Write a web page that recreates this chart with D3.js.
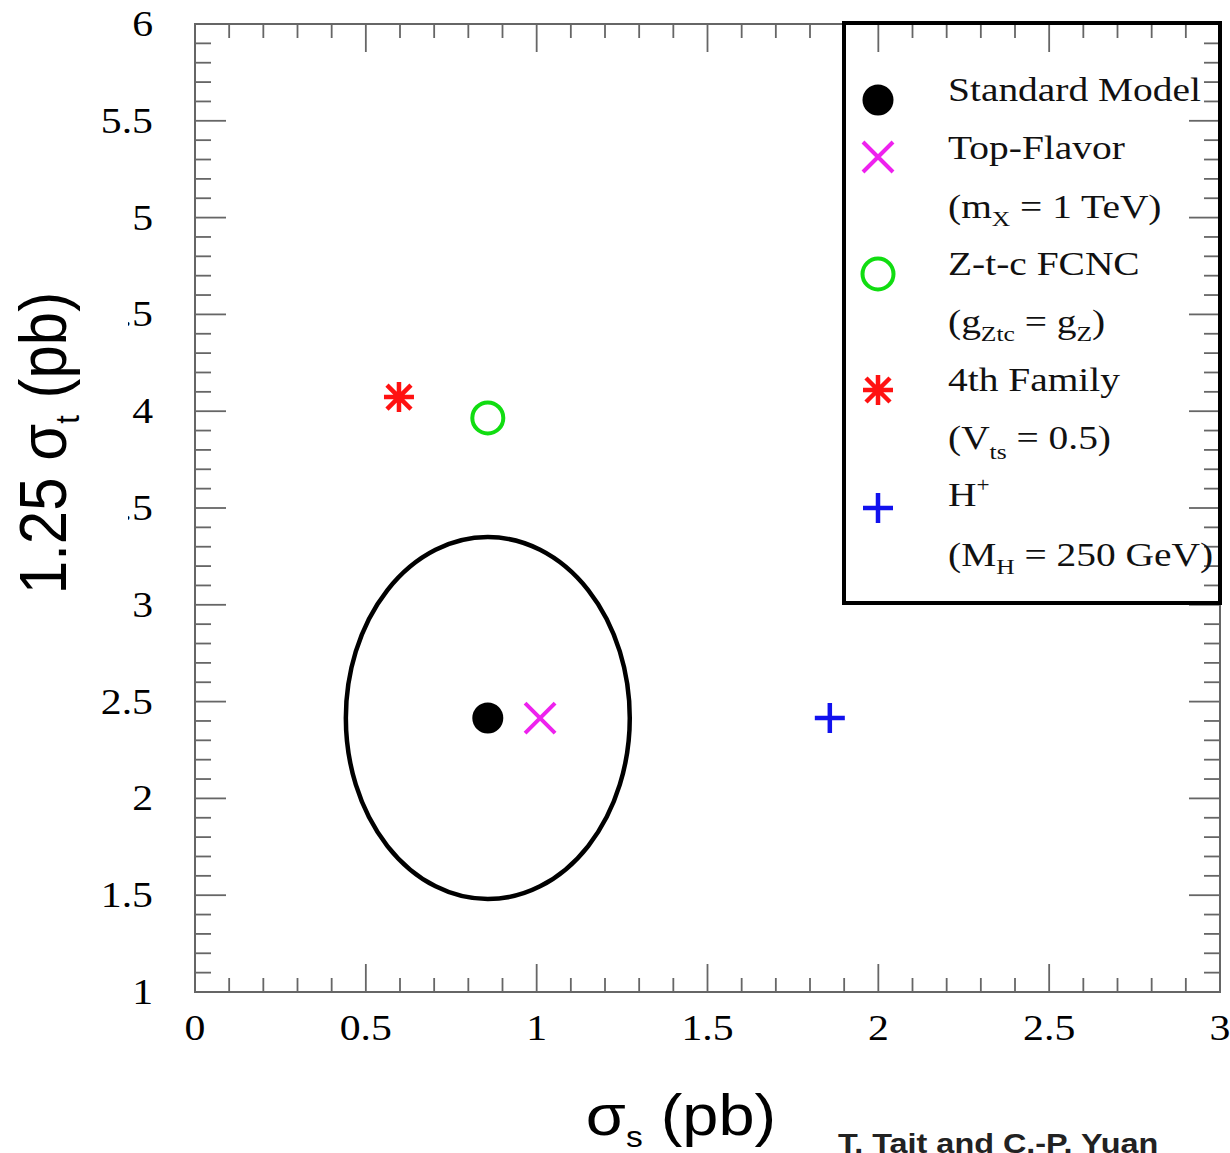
<!DOCTYPE html>
<html><head><meta charset="utf-8">
<script src="https://cdn.jsdelivr.net/npm/d3@7"></script>
<style>body{margin:0;background:#fff}</style>
</head><body>
<svg id="c" width="1230" height="1153"></svg>
<script>
const xTickValues = [0, 0.5, 1, 1.5, 2, 2.5, 3];
const xTickLabels = ["0", "0.5", "1", "1.5", "2", "2.5", "3"];
const yTickValues = [1, 1.5, 2, 2.5, 3, 3.5, 4, 4.5, 5, 5.5, 6];
const yTickLabels = ["1", "1.5", "2", "2.5", "3", "3.5", "4", "4.5", "5", "5.5", "6"];
const models = ["Standard Model", "Top-Flavor", "Z-t-c FCNC", "4th Family", "H+"];
const sigmaS = [0.857, 1.01, 0.857, 0.597, 1.858];
const sigmaT = [2.415, 2.415, 3.965, 4.073, 2.415];
const markerType = ["dot", "cross", "circle", "star", "plus"];
const markerColor = ["#000000", "#ee22ee", "#11dd11", "#ff1111", "#1111ee"];
const ellipseCenter = [0.857, 2.415];
const ellipseHalf = [0.4155, 0.935];

const svg = d3.select("#c");
const x = d3.scaleLinear().domain([0, 3]).range([195, 1220]);
const y = d3.scaleLinear().domain([1, 6]).range([992, 24]);
const serif = "'Liberation Serif','Times New Roman',serif";
const sans = "'Liberation Sans',Arial,sans-serif";
const tickCol = "#666";
const SX = 1.16; // horizontal stretch of the original image

// frame
svg.append("rect").attr("x", x(0)).attr("y", y(6)).attr("width", x(3) - x(0)).attr("height", y(1) - y(6))
  .attr("fill", "none").attr("stroke", tickCol).attr("stroke-width", 2);

// ticks
const gT = svg.append("g").attr("stroke", tickCol).attr("stroke-width", 1.8);
const xMinor = d3.range(0, 3.0001, 0.1);
xMinor.forEach(v => {
  const major = Math.abs(v * 2 - Math.round(v * 2)) < 1e-6;
  const L = major ? 28 : 14;
  gT.append("line").attr("x1", x(v)).attr("x2", x(v)).attr("y1", y(1)).attr("y2", y(1) - L);
  gT.append("line").attr("x1", x(v)).attr("x2", x(v)).attr("y1", y(6)).attr("y2", y(6) + L);
});
const yMinor = d3.range(1, 6.0001, 0.1);
yMinor.forEach(v => {
  const major = Math.abs(v * 2 - Math.round(v * 2)) < 1e-6;
  const L = major ? 31 : 16;
  gT.append("line").attr("y1", y(v)).attr("y2", y(v)).attr("x1", x(0)).attr("x2", x(0) + L);
  gT.append("line").attr("y1", y(v)).attr("y2", y(v)).attr("x1", x(3)).attr("x2", x(3) - L);
});

// tick labels
svg.append("g").selectAll("text").data(xTickValues).join("text")
  .attr("transform", d => `translate(${x(d)},1040) scale(${SX},1)`).attr("text-anchor", "middle")
  .attr("font-family", serif).attr("font-size", 36)
  .text((d, i) => xTickLabels[i]);
svg.append("g").selectAll("text").data(yTickValues).join("text")
  .attr("transform", d => `translate(153,${y(d) + 12}) scale(${SX},1)`).attr("text-anchor", "end")
  .attr("font-family", serif).attr("font-size", 36)
  .text((d, i) => yTickLabels[i]);

// y title (with white backing that hides part of tick labels, as in the original)
svg.append("rect").attr("x", 0).attr("y", 240).attr("width", 128).attr("height", 400).attr("fill", "#fff");
const yt = svg.append("text").attr("transform", "translate(66,443) rotate(-90) scale(1,1.1)")
  .attr("text-anchor", "middle").attr("font-family", sans).attr("font-size", 60);
yt.append("tspan").text("1.25 σ");
yt.append("tspan").attr("font-size", 31).attr("dy", 12).text("t");
yt.append("tspan").attr("dy", -12).text(" (pb)");

// x title
const xt = svg.append("text").attr("transform", "translate(681,1135) scale(1.12,1)").attr("text-anchor", "middle")
  .attr("font-family", sans).attr("font-size", 58);
xt.append("tspan").text("σ");
xt.append("tspan").attr("font-size", 30).attr("dy", 12).text("s");
xt.append("tspan").attr("dy", -12).text(" (pb)");

svg.append("text").attr("transform", "translate(838,1153) scale(1.2,1)").attr("font-family", sans).attr("font-weight", "bold")
  .attr("font-size", 27).attr("fill", "#222").text("T. Tait and C.-P. Yuan");

// ellipse
svg.append("ellipse").attr("cx", x(ellipseCenter[0])).attr("cy", y(ellipseCenter[1]))
  .attr("rx", x(ellipseCenter[0] + ellipseHalf[0]) - x(ellipseCenter[0]))
  .attr("ry", y(ellipseCenter[1]) - y(ellipseCenter[1] + ellipseHalf[1]))
  .attr("fill", "none").attr("stroke", "#000").attr("stroke-width", 4.5);

function marker(g, type, cx, cy, col) {
  const s = 15;
  if (type === "dot") {
    g.append("circle").attr("cx", cx).attr("cy", cy).attr("r", 15.5).attr("fill", col);
  } else if (type === "circle") {
    g.append("circle").attr("cx", cx).attr("cy", cy).attr("r", 15.5).attr("fill", "none").attr("stroke", col).attr("stroke-width", 4);
  } else if (type === "cross") {
    g.append("path").attr("d", `M${cx - s},${cy - s}L${cx + s},${cy + s}M${cx - s},${cy + s}L${cx + s},${cy - s}`)
      .attr("stroke", col).attr("stroke-width", 4);
  } else if (type === "plus") {
    const p = 15;
    g.append("path").attr("d", `M${cx - p},${cy}L${cx + p},${cy}M${cx},${cy - p}L${cx},${cy + p}`)
      .attr("stroke", col).attr("stroke-width", 4.5);
  } else if (type === "star") {
    const a = 15, d = 12;
    g.append("path").attr("d", `M${cx - a},${cy}L${cx + a},${cy}M${cx},${cy - a}L${cx},${cy + a}M${cx - d},${cy - d}L${cx + d},${cy + d}M${cx - d},${cy + d}L${cx + d},${cy - d}`)
      .attr("stroke", col).attr("stroke-width", 4.5);
  }
}

const gm = svg.append("g");
models.forEach((m, i) => marker(gm, markerType[i], x(sigmaS[i]), y(sigmaT[i]), markerColor[i]));

// legend
svg.append("rect").attr("x", 844).attr("y", 23).attr("width", 376).attr("height", 580)
  .attr("fill", "none").attr("stroke", "#000").attr("stroke-width", 4);
const lg = svg.append("g");
const markerY = [100, 157, 274, 390, 508];
models.forEach((m, i) => marker(lg, markerType[i], 878, markerY[i], markerColor[i]));

function lt(yy) {
  return lg.append("text").attr("transform", `translate(948,${yy}) scale(${SX},1)`)
    .attr("font-family", serif).attr("font-size", 34).attr("fill", "#111");
}
lt(101).text("Standard Model");
lt(159).text("Top-Flavor");
let t = lt(218); t.append("tspan").text("(m"); t.append("tspan").attr("font-size", 22).attr("dy", 8).text("X");
t.append("tspan").attr("dy", -8).text(" = 1 TeV)");
lt(275).text("Z-t-c FCNC");
t = lt(333); t.append("tspan").text("(g"); t.append("tspan").attr("font-size", 22).attr("dy", 8).text("Ztc");
t.append("tspan").attr("dy", -8).text(" = g"); t.append("tspan").attr("font-size", 22).attr("dy", 8).text("Z");
t.append("tspan").attr("dy", -8).text(")");
lt(391).text("4th Family");
t = lt(449); t.append("tspan").text("(V"); t.append("tspan").attr("font-size", 22).attr("dy", 10).text("ts");
t.append("tspan").attr("dy", -10).text(" = 0.5)");
t = lt(506); t.append("tspan").text("H"); t.append("tspan").attr("font-size", 20).attr("dy", -14).text("+");
t = lt(566); t.append("tspan").text("(M"); t.append("tspan").attr("font-size", 22).attr("dy", 8).text("H");
t.append("tspan").attr("dy", -8).text(" = 250 GeV)");
</script>
</body></html>
